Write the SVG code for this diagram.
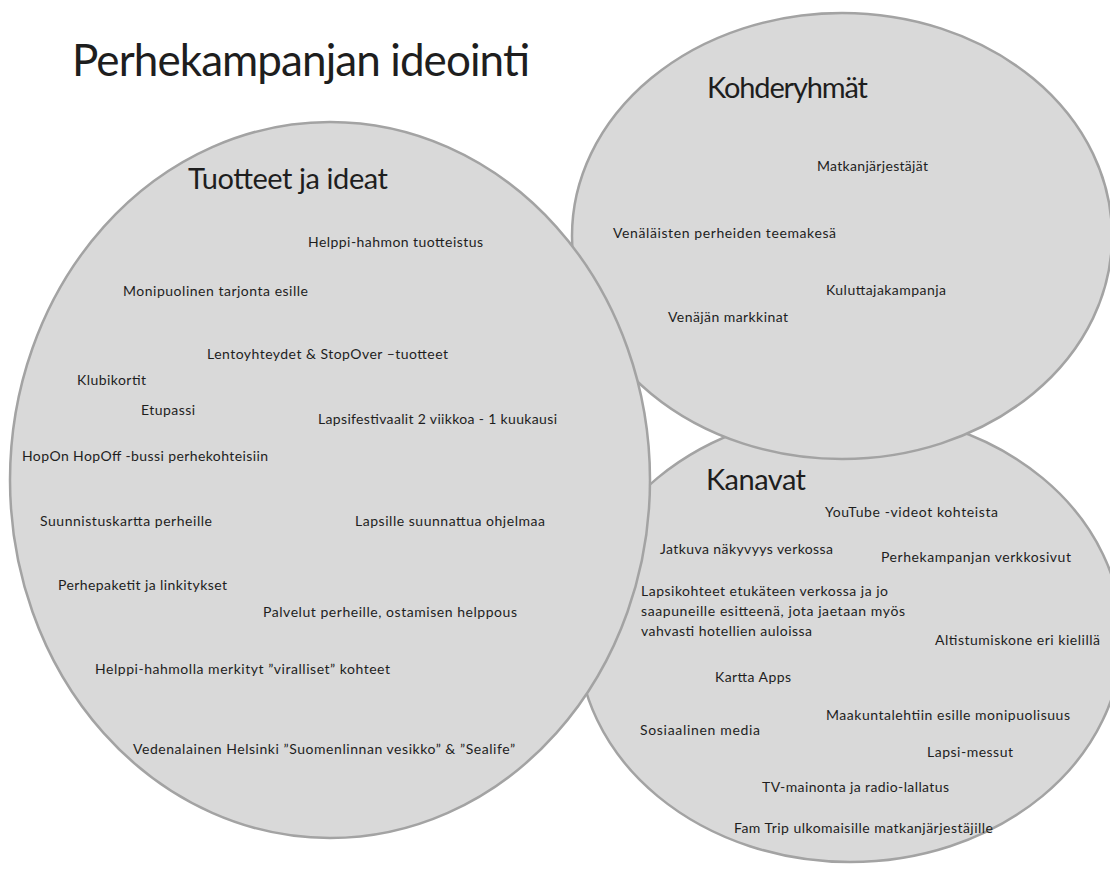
<svg xmlns="http://www.w3.org/2000/svg" width="1110" height="875" viewBox="0 0 1110 875">
<style>
.bg{fill:#ffffff}
.blob{fill:#d9d9d9;stroke:#a3a3a3;stroke-width:2.5}
text{font-family:Lato,"Open Sans","Liberation Sans",sans-serif;fill:#1e1e1e}
.t{font-size:14px}
.h{font-size:29px}
.title{font-size:44px}
</style>
<rect class="bg" x="0" y="0" width="1110" height="875"/>
<text class="title" x="72" y="76" textLength="458">Perhekampanjan ideointi</text>

<g id="kanavat">
<ellipse class="blob" cx="850" cy="637" rx="272" ry="225"/>
<text class="h" x="706" y="490" textLength="100">Kanavat</text>
<text class="t" x="825" y="517" textLength="173">YouTube -videot kohteista</text>
<text class="t" x="660" y="554" textLength="173">Jatkuva näkyvyys verkossa</text>
<text class="t" x="881" y="562" textLength="190">Perhekampanjan verkkosivut</text>
<text class="t" x="641" y="596" textLength="247">Lapsikohteet etukäteen verkossa ja jo</text>
<text class="t" x="641" y="616" textLength="264">saapuneille esitteenä, jota jaetaan myös</text>
<text class="t" x="641" y="636" textLength="171">vahvasti hotellien auloissa</text>
<text class="t" x="935" y="645" textLength="165">Altistumiskone eri kielillä</text>
<text class="t" x="715" y="682" textLength="76">Kartta Apps</text>
<text class="t" x="826" y="720" textLength="244">Maakuntalehtiin esille monipuolisuus</text>
<text class="t" x="640" y="735" textLength="120">Sosiaalinen media</text>
<text class="t" x="927" y="757" textLength="86">Lapsi-messut</text>
<text class="t" x="762" y="792" textLength="187">TV-mainonta ja radio-lallatus</text>
<text class="t" x="734" y="833" textLength="259">Fam Trip ulkomaisille matkanjärjestäjille</text>
</g>

<g id="kohderyhmat">
<ellipse class="blob" cx="842" cy="236" rx="270" ry="223"/>
<text class="h" x="707" y="98" textLength="161">Kohderyhmät</text>
<text class="t" x="817" y="171" textLength="111">Matkanjärjestäjät</text>
<text class="t" x="613" y="238" textLength="223">Venäläisten perheiden teemakesä</text>
<text class="t" x="826" y="295" textLength="120">Kuluttajakampanja</text>
<text class="t" x="668" y="322" textLength="120">Venäjän markkinat</text>
</g>

<g id="tuotteet">
<ellipse class="blob" cx="330" cy="480" rx="320" ry="358"/>
<text class="h" x="188" y="189" textLength="200">Tuotteet ja ideat</text>
<text class="t" x="308" y="247" textLength="175">Helppi-hahmon tuotteistus</text>
<text class="t" x="123" y="296" textLength="185">Monipuolinen tarjonta esille</text>
<text class="t" x="207" y="359" textLength="241">Lentoyhteydet &amp; StopOver –tuotteet</text>
<text class="t" x="77" y="385" textLength="69">Klubikortit</text>
<text class="t" x="141" y="415" textLength="54">Etupassi</text>
<text class="t" x="318" y="424" textLength="239">Lapsifestivaalit 2 viikkoa - 1 kuukausi</text>
<text class="t" x="22" y="461" textLength="246">HopOn HopOff -bussi perhekohteisiin</text>
<text class="t" x="40" y="526" textLength="172">Suunnistuskartta perheille</text>
<text class="t" x="355" y="526" textLength="190">Lapsille suunnattua ohjelmaa</text>
<text class="t" x="58" y="590" textLength="169">Perhepaketit ja linkitykset</text>
<text class="t" x="263" y="617" textLength="254">Palvelut perheille, ostamisen helppous</text>
<text class="t" x="95" y="674" textLength="295">Helppi-hahmolla merkityt ”viralliset” kohteet</text>
<text class="t" x="133" y="754" textLength="382">Vedenalainen Helsinki ”Suomenlinnan vesikko” &amp; ”Sealife”</text>
</g>
</svg>
